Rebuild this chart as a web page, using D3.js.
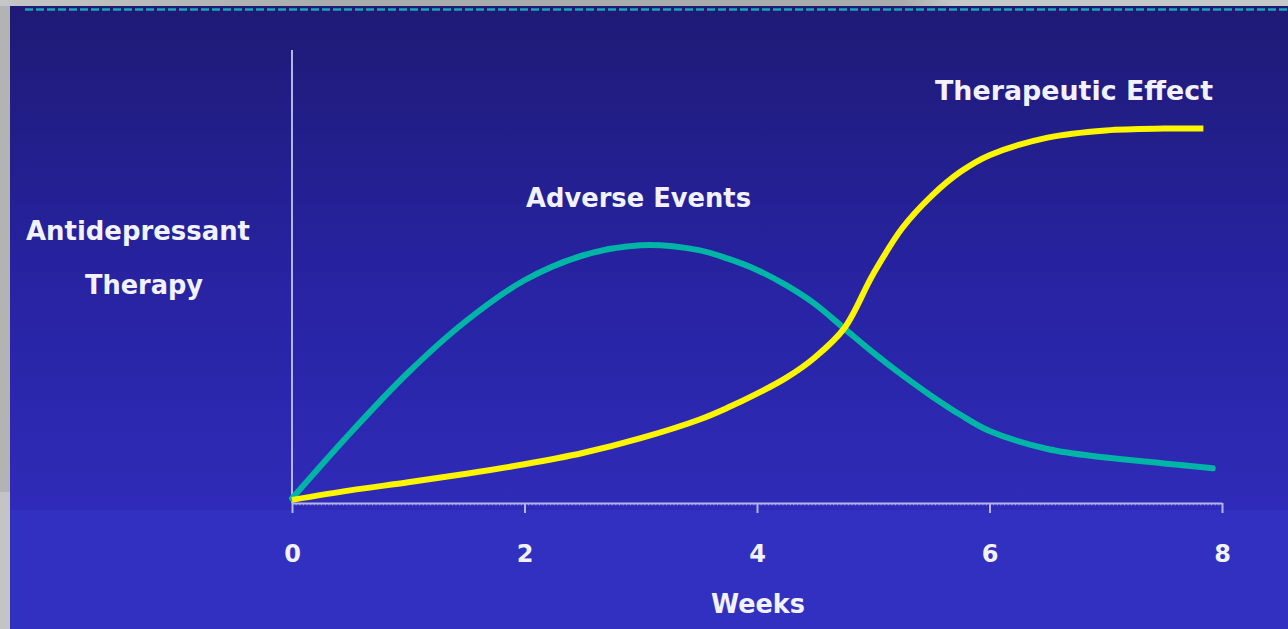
<!DOCTYPE html>
<html>
<head>
<meta charset="utf-8">
<script src="https://cdn.jsdelivr.net/npm/d3@7/dist/d3.min.js"></script>
<style>
  html, body { margin: 0; padding: 0; background: #c4c4c4; }
  svg { display: block; }
  text { font-family: "DejaVu Sans", Verdana, sans-serif; font-weight: bold; fill: #f2f2ff; }
</style>
</head>
<body>
<script>
// Time since starting antidepressant therapy (weeks)
const weeks = [0, 0.5, 1, 1.5, 2, 2.5, 3, 3.5, 3.75, 4, 4.25, 4.5, 4.75, 5, 5.25, 5.5, 5.75, 6, 6.5, 7, 7.5, 7.92];
// Relative intensity of adverse events (0–100)
const adverseEvents = [1.0, 15.5, 29.0, 40.5, 49.5, 55.0, 57.3, 56.2, 54.3, 51.8, 48.4, 44.2, 38.8, 33.4, 28.4, 23.8, 19.6, 16.0, 12.0, 10.1, 8.8, 7.7];
// Relative therapeutic effect (0–100)
const effectWeeks = [0, 0.5, 1, 1.5, 2, 2.5, 3, 3.5, 3.75, 4, 4.25, 4.5, 4.75, 5, 5.25, 5.5, 5.75, 6, 6.5, 7, 7.5, 7.84];
const therapeuticEffect = [0.7, 2.8, 4.6, 6.5, 8.6, 11.1, 14.4, 18.5, 21.2, 24.3, 27.8, 32.4, 38.8, 50.9, 61.1, 68.2, 73.6, 77.3, 81.2, 82.8, 83.2, 83.2];
const xTicks = [0, 2, 4, 6, 8];
const seriesNames = ["Adverse Events", "Therapeutic Effect"];
const yTitle = ["Antidepressant", "Therapy"];
const xTitle = "Weeks";

const W = 1288, H = 629;
const svg = d3.select("body").append("svg").attr("width", W).attr("height", H);
const defs = svg.append("defs");

// slide background
const bg = defs.append("linearGradient").attr("id", "bg")
  .attr("x1", 0).attr("y1", 0).attr("x2", 0).attr("y2", 1);
bg.append("stop").attr("offset", "0%").attr("stop-color", "#1e1a75");
bg.append("stop").attr("offset", "55%").attr("stop-color", "#2723a2");
bg.append("stop").attr("offset", "100%").attr("stop-color", "#2f2bb8");

const frame = defs.append("linearGradient").attr("id", "frame")
  .attr("x1", 0).attr("y1", 0).attr("x2", 1).attr("y2", 0);
frame.append("stop").attr("offset", "0%").attr("stop-color", "#c6c6c6");
frame.append("stop").attr("offset", "25%").attr("stop-color", "#a9abad");
frame.append("stop").attr("offset", "70%").attr("stop-color", "#a9abad");
frame.append("stop").attr("offset", "74%").attr("stop-color", "#c4c8c8");
frame.append("stop").attr("offset", "100%").attr("stop-color", "#c4c8c8");

svg.append("rect").attr("x", 0).attr("y", 0).attr("width", W).attr("height", 6).attr("fill", "url(#frame)");
svg.append("rect").attr("x", 0).attr("y", 6).attr("width", 10).attr("height", 486).attr("fill", "#b3b3b3");
svg.append("rect").attr("x", 0).attr("y", 492).attr("width", 10).attr("height", H - 492).attr("fill", "#c4c4c4");
svg.append("rect").attr("x", 10).attr("y", 6).attr("width", W - 10).attr("height", 504).attr("fill", "url(#bg)");
svg.append("rect").attr("x", 10).attr("y", 510).attr("width", W - 10).attr("height", H - 510).attr("fill", "#3230c0");

// dashed rule along the top of the slide
svg.append("line").attr("x1", 25).attr("x2", W).attr("y1", 9.5).attr("y2", 9.5)
  .attr("stroke", "#17a6b6").attr("stroke-width", 2.5).attr("stroke-dasharray", "8,3");

// scales
const x = d3.scaleLinear().domain([0, 8]).range([292, 1222]);
const y = d3.scaleLinear().domain([0, 100]).range([503, 53]);

const axisColor = "#b4b4ee";

// y axis: a bare vertical rule
const yAxis = svg.append("g").attr("transform", `translate(${x(0)},0)`)
  .call(d3.axisLeft(y).tickValues([]).tickSizeOuter(0));
yAxis.select(".domain").attr("stroke", axisColor).attr("stroke-width", 2)
  .attr("d", `M0,${y(100) - 3}V${y(0)}`);

// minor ticks along the x axis
const minor = svg.append("g").attr("transform", `translate(0,${y(0)})`)
  .call(d3.axisBottom(x).tickValues(d3.range(0, 8.0001, 1 / 32)).tickSize(2.5).tickSizeOuter(0).tickFormat(""));
minor.select(".domain").remove();
minor.selectAll(".tick line").attr("stroke", axisColor).attr("stroke-opacity", 0.7).attr("stroke-width", 1);

// x axis with major ticks
const xAxis = svg.append("g").attr("transform", `translate(0,${y(0)})`)
  .call(d3.axisBottom(x).tickValues(xTicks).tickSize(10).tickSizeOuter(0).tickPadding(31.5).tickFormat(d3.format("d")));
xAxis.select(".domain").attr("stroke", axisColor).attr("stroke-width", 2);
xAxis.selectAll(".tick line").attr("stroke", axisColor).attr("stroke-width", 2);
xAxis.selectAll(".tick text")
  .attr("font-family", "DejaVu Sans, Verdana, sans-serif")
  .attr("font-weight", "bold").attr("font-size", 24).attr("fill", "#f2f2ff");

// curves
const line = d3.line().curve(d3.curveCatmullRom.alpha(0.5));
svg.append("path")
  .attr("d", line(weeks.map((w, i) => [x(w), y(adverseEvents[i])])))
  .attr("fill", "none").attr("stroke", "#00b4a6").attr("stroke-width", 6).attr("stroke-linecap", "round");
svg.append("path")
  .attr("d", line(effectWeeks.map((w, i) => [x(w), y(therapeuticEffect[i])])))
  .attr("fill", "none").attr("stroke", "#fbf500").attr("stroke-width", 6).attr("stroke-linecap", "butt");

// labels
function label(txt, cx, baseline, width) {
  const t = svg.append("text").attr("x", cx).attr("y", baseline)
    .attr("text-anchor", "middle").attr("font-size", 26).text(txt);
  if (width) t.attr("textLength", width).attr("lengthAdjust", "spacingAndGlyphs");
  return t;
}
label(seriesNames[0], 638.5, 207, 225);
label(seriesNames[1], 1074, 100, 278);
label(yTitle[0], 138, 240, 224);
label(yTitle[1], 144, 294, 118);
label(xTitle, 758, 613, 94);
</script>
</body>
</html>
